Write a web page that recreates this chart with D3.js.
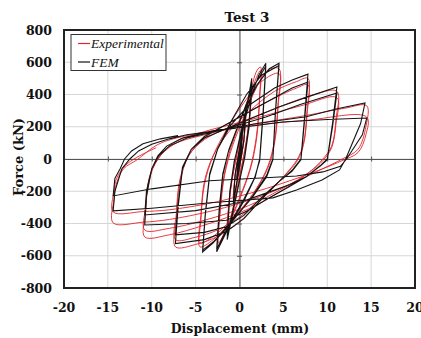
<!DOCTYPE html>
<html><head><meta charset="utf-8">
<script src="https://cdn.jsdelivr.net/npm/d3@7"></script>
<style>body{margin:0;background:#fff}svg{display:block}</style>
</head><body>
<svg id="c" width="421" height="338"></svg>
<script>
const xTicks = [-20,-15,-10,-5,0,5,10,15,20];
const yTicks = [-800,-600,-400,-200,0,200,400,600,800];
const seriesNames = ["Experimental","FEM"];
const seriesColors = ["#e3262e","#141414"];

// FEM (black) displacement [mm], force [kN] path
const femPath = [
[0,0],[0.3,150],[0.2,60],[-0.3,-130],[-0.2,-50],[0.3,145],[0.2,55],[-0.3,-125],[-0.2,-45],
[0.7,300],[0.5,120],[-0.7,-280],[-0.5,-100],[0.7,290],[0.5,110],[-0.7,-270],[-0.5,-95],
[1.4,500],[1.1,220],[0.6,20],[-1.4,-500],[-1.1,-210],[-0.6,-20],[1.4,470],[1.1,200],[0.6,10],[-1.4,-480],[-1.1,-200],[-0.6,-15],
[0.4,200],[1.4,400],[2.2,520],[3.0,594],
[2.7,300],[2.3,0],[1.8,-110],[0.5,-260],[-1.2,-420],[-2.6,-576],
[-2.3,-320],[-1.9,-100],[-1.3,40],[0,230],[1.5,440],[3.0,575],
[2.7,280],[2.3,-10],[1.7,-120],[0.4,-260],[-1.2,-410],[-2.6,-560],
[-2.3,-300],[-1.9,-90],[-1.2,60],[0.2,260],[2,460],[3.4,560],[4.5,594],
[4.1,300],[3.8,0],[3.1,-100],[1.5,-230],[-1,-400],[-3,-520],[-4.2,-576],
[-3.9,-350],[-3.4,-100],[-2.5,60],[-1,230],[0.8,400],[2.5,520],[4.5,580],
[4.1,290],[3.8,-5],[3.1,-110],[1.5,-235],[-1,-395],[-3,-515],[-4.2,-565],
[-3.9,-340],[-3.4,-90],[-2.5,60],[-1,210],[1,330],[4,440],[6,490],[7.8,526],
[7.4,250],[7.0,0],[6.0,-70],[4.5,-140],[2.5,-250],[0.5,-370],[-1.5,-450],[-4,-500],[-7.3,-525],
[-7.0,-300],[-6.5,-60],[-5.5,60],[-4,140],[-1,230],[3,350],[6,440],[7.8,477],
[7.4,230],[7.0,-5],[6.0,-75],[4.5,-140],[2.5,-240],[0.5,-350],[-1.5,-420],[-4,-455],[-7.3,-470],
[-7.0,-280],[-6.5,-50],[-5.5,60],[-4,130],[-1,200],[4.5,322],[8,390],[11.1,446],
[10.6,220],[10,0],[9.3,-37],[7.6,-110],[5.7,-170],[3.1,-250],[1,-320],[-1.5,-380],[-6,-400],[-10.8,-409],
[-10.6,-230],[-10,-60],[-9.2,20],[-8,80],[-6,130],[-2,180],[3,260],[7,340],[11.1,409],
[10.6,200],[10,-5],[9.3,-40],[7.6,-110],[5.7,-160],[3.1,-210],[0,-270],[-5,-320],[-10.8,-347],
[-10.6,-200],[-10,-60],[-9.3,20],[-8.3,80],[-6.5,130],[-3,175],[2,220],[7.6,262],[11,310],[14.3,347],
[13.8,220],[12.1,0],[11.4,-68],[9.4,-130],[6.5,-192],[3.8,-241],[-3,-270],[-10,-305],[-14.4,-322],
[-14.2,-200],[-13.4,-60],[-12.5,0],[-11.5,50],[-10,92],[-8,125],[-6,150],[-2,180],[4.9,229],[10,245],[14.5,254],
[14.0,150],[12.2,0],[11.5,-45],[9.5,-80],[6.5,-105],[3.5,-115],[-3.4,-135],[-10,-185],[-14.4,-229],
[-14.2,-120],[-13.6,-60],[-13.1,0],[-12.3,50],[-11,95],[-9,125],[-7,145]
];

// Experimental (red) displacement [mm], force [kN] path
const expPath = [
[0,0],[0.3,140],[0.15,50],[-0.3,-120],[-0.15,-40],[0.3,135],[0.15,45],[-0.3,-115],[-0.15,-35],
[0.7,270],[0.45,100],[-0.7,-250],[-0.45,-90],[0.7,260],[0.45,95],[-0.7,-240],[-0.45,-85],
[1.4,460],[1.0,200],[0.4,0],[-1.4,-450],[-1.0,-190],[-0.4,0],[1.4,440],[1.0,190],[0.4,-10],[-1.4,-440],[-1.0,-180],[-0.4,0],
[0.6,250],[1.5,470],[2.0,550],[2.4,570],
[2.3,400],[2.0,150],[1.3,-50],[0,-250],[-1.5,-440],[-2.4,-540],
[-2.3,-380],[-1.9,-150],[-1.2,30],[0,220],[1.3,420],[2.4,550],
[2.3,380],[1.9,130],[1.2,-60],[0,-240],[-1.5,-430],[-2.4,-520],
[-2.2,-330],[-1.7,-100],[-0.8,80],[0.5,260],[2,450],[3.2,550],[4.5,560],
[4.4,350],[4.0,120],[3.2,-50],[1.5,-220],[-1,-390],[-3,-500],[-4.5,-545],
[-4.4,-380],[-4,-160],[-3,20],[-1.5,180],[0.5,350],[2.5,480],[4.5,530],
[4.4,330],[4,100],[3.2,-60],[1.5,-220],[-1,-380],[-3,-480],[-4.5,-520],
[-4.4,-350],[-4,-140],[-3,20],[-1.2,170],[1,290],[4,420],[6.5,480],[7.8,500],
[7.7,300],[7.3,100],[6.6,0],[5,-110],[2.5,-250],[0,-390],[-2.5,-480],[-5,-530],[-7.3,-545],
[-7.2,-380],[-6.8,-150],[-5.8,20],[-4,130],[-1,230],[3,350],[6.5,440],[7.8,460],
[7.7,280],[7.3,90],[6.6,-10],[5,-110],[2.5,-240],[0,-360],[-2.5,-440],[-5,-485],[-7.3,-500],
[-7.2,-340],[-6.8,-130],[-5.8,20],[-4,120],[-1,200],[3,290],[8,390],[11.1,420],
[11.0,250],[10.5,80],[9.5,0],[8,-80],[5,-190],[1,-310],[-4,-410],[-8,-470],[-10.8,-483],
[-10.7,-330],[-10.3,-130],[-9.3,0],[-7.5,100],[-4,170],[1,240],[7,330],[11.1,380],
[11,220],[10.5,70],[9.5,-10],[8,-80],[5,-180],[1,-290],[-4,-380],[-8,-430],[-10.8,-440],
[-10.7,-300],[-10.3,-120],[-9.3,0],[-7.5,90],[-4,150],[1,210],[7.6,270],[12,315],[14.5,330],
[14.4,200],[13.5,60],[11.7,0],[9.5,-60],[6,-150],[2,-240],[-3,-320],[-8,-375],[-11,-392],[-14.4,-396],
[-14.3,-250],[-14,-149],[-13.2,-60],[-11.7,-6],[-9.4,87],[-7.2,130],[0,198],[7.6,240],[14.5,260],
[14.4,150],[13.5,40],[11.7,-10],[9.5,-60],[6,-130],[2,-200],[-3,-270],[-8,-315],[-11,-326],[-14.4,-328],
[-14.3,-200],[-14,-120],[-13,-40],[-11.7,10],[-9.5,70]
];

const svg = d3.select("#c");
const L = 64, R = 415, T = 30, B = 288;
const x = d3.scaleLinear().domain([-20,20]).range([L,R]);
const y = d3.scaleLinear().domain([-800,800]).range([B,T]);

// grid
svg.append("g").selectAll("line").data(xTicks).join("line")
  .attr("x1",d=>x(d)).attr("x2",d=>x(d)).attr("y1",T).attr("y2",B)
  .attr("stroke","#d6d6d6").attr("stroke-width",1);
svg.append("g").selectAll("line").data(yTicks).join("line")
  .attr("y1",d=>y(d)).attr("y2",d=>y(d)).attr("x1",L).attr("x2",R)
  .attr("stroke","#d6d6d6").attr("stroke-width",1);

// center axes with ticks
const cx = svg.append("g").attr("transform",`translate(0,${y(0)})`)
  .call(d3.axisBottom(x).tickValues(xTicks.filter(d=>d>-20&&d<20)).tickSize(5).tickFormat(""));
cx.selectAll("line").attr("transform","translate(0,-2.5)");
const cy = svg.append("g").attr("transform",`translate(${x(0)},0)`)
  .call(d3.axisLeft(y).tickValues(yTicks.filter(d=>d>-800&&d<800)).tickSize(5).tickFormat(""));
cy.selectAll("line").attr("transform","translate(2.5,0)");
[cx,cy].forEach(g=>{g.selectAll("path").attr("stroke","#555").attr("stroke-width",1);g.selectAll("line").attr("stroke","#555");});

// data lines
const lineLin = d3.line().x(d=>x(d[0])).y(d=>y(d[1])).curve(d3.curveLinear);
const lineSm = d3.line().x(d=>x(d[0])).y(d=>y(d[1])).curve(d3.curveCatmullRom.alpha(0.5));
svg.append("path").datum(expPath).attr("d",lineSm).attr("fill","none")
  .attr("stroke",seriesColors[0]).attr("stroke-width",0.9);
svg.append("path").datum(femPath).attr("d",lineLin).attr("fill","none")
  .attr("stroke",seriesColors[1]).attr("stroke-width",1.1).attr("stroke-linejoin","miter");

// frame
svg.append("rect").attr("x",L).attr("y",T).attr("width",R-L).attr("height",B-T)
  .attr("fill","none").attr("stroke","#222").attr("stroke-width",2);

// tick labels
const font = "'DejaVu Serif', serif";
svg.append("g").selectAll("text").data(yTicks).join("text")
  .attr("x",L-12).attr("y",d=>y(d)+4.5).attr("text-anchor","end")
  .attr("font-family",font).attr("font-weight","bold").attr("font-size",12.5)
  .attr("fill","#111").text(d=>d);
svg.append("g").selectAll("text").data(xTicks).join("text")
  .attr("x",d=>x(d)).attr("y",312).attr("text-anchor","middle")
  .attr("font-family",font).attr("font-weight","bold").attr("font-size",12.5)
  .attr("fill","#111").text(d=>d);

// axis titles
svg.append("text").attr("x",240).attr("y",333).attr("text-anchor","middle")
  .attr("font-family",font).attr("font-weight","bold").attr("font-size",12.5)
  .attr("fill","#111").text("Displacement (mm)");
svg.append("text").attr("transform",`translate(23,157) rotate(-90)`).attr("text-anchor","middle")
  .attr("font-family",font).attr("font-weight","bold").attr("font-size",13)
  .attr("fill","#111").text("Force (kN)");
svg.append("text").attr("x",247).attr("y",22).attr("text-anchor","middle")
  .attr("font-family",font).attr("font-weight","bold").attr("font-size",13.5)
  .attr("fill","#111").text("Test 3");

// legend
const lg = svg.append("g");
lg.append("rect").attr("x",71).attr("y",34.5).attr("width",95).attr("height",36)
  .attr("fill","#fff").attr("stroke","#333").attr("stroke-width",1);
seriesNames.forEach((n,i)=>{
  const yy = 43.5 + i*18.5;
  lg.append("line").attr("x1",78).attr("x2",90).attr("y1",yy).attr("y2",yy)
    .attr("stroke",seriesColors[i]).attr("stroke-width",1.2);
  lg.append("text").attr("x",91).attr("y",yy+4.5)
    .attr("font-family","'Liberation Serif', serif").attr("font-style","italic")
    .attr("font-size",13.5).attr("fill","#111").text(n);
});
</script>
</body></html>
